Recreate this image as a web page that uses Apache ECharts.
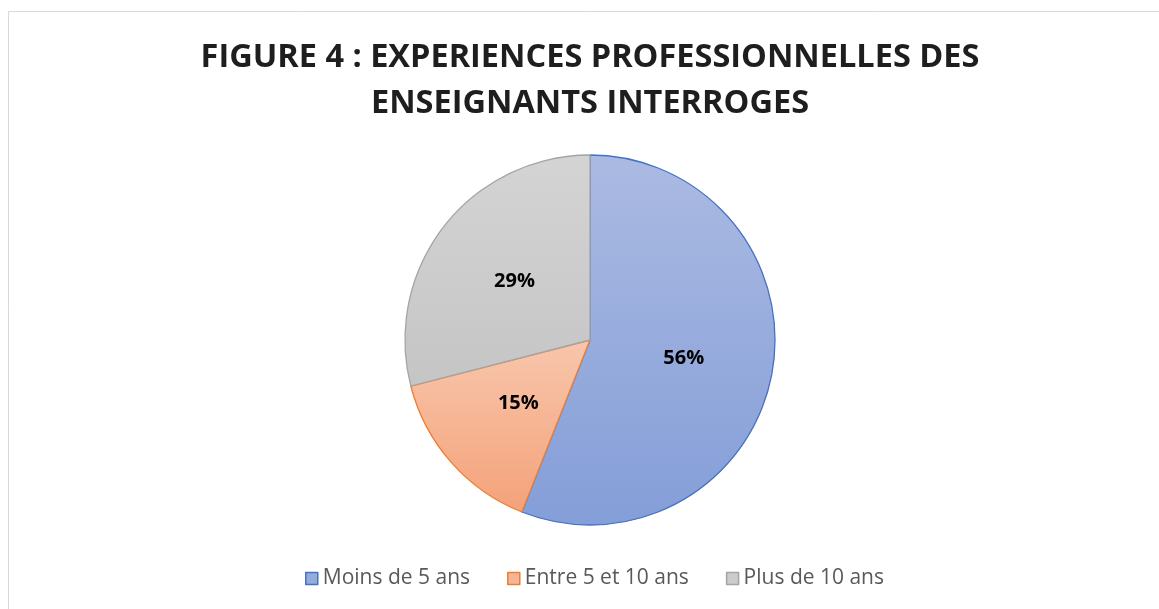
<!DOCTYPE html>
<html>
<head>
<meta charset="utf-8">
<script src="https://cdn.jsdelivr.net/npm/echarts@6/dist/echarts.min.js"></script>
<style>
html,body{margin:0;padding:0;background:#fff;}
#chart{width:1159px;height:609px;}
</style>
</head>
<body>
<div id="chart"></div>
<script>
var titleLines = ['FIGURE 4 : EXPERIENCES PROFESSIONNELLES DES', 'ENSEIGNANTS INTERROGES'];
var categories = ['Moins de 5 ans', 'Entre 5 et 10 ans', 'Plus de 10 ans'];
var values = [56, 15, 29];
var topColors = ['#abbae2', '#f8c6ac', '#d4d4d4'];
var bottomColors = ['#849ed8', '#f4a27a', '#c5c5c5'];
var borderColors = ['#4472c4', '#ed7d31', '#a5a5a5'];
var legendColors = ['#94abdc', '#f6b596', '#cccccc'];

var FONT = '"Open Sans", Lato, sans-serif';
var chart = echarts.init(document.getElementById('chart'));

var data = categories.map(function (c, i) {
  return {
    name: c,
    value: values[i],
    itemStyle: {
      color: {
        type: 'linear', x: 0, y: 0, x2: 0, y2: 1,
        colorStops: [{offset: 0, color: topColors[i]}, {offset: 1, color: bottomColors[i]}]
      },
      borderColor: borderColors[i],
      borderWidth: 1.3
    }
  };
});

chart.setOption({
  animation: false,
  graphic: [{
    type: 'rect',
    shape: {x: 8.5, y: 11.5, width: 1300, height: 800},
    style: {fill: 'none', stroke: '#d9d9d9', lineWidth: 1},
    silent: true
  }],
  title: {
    text: titleLines.join('\n'),
    left: 590,
    textAlign: 'center',
    top: 35,
    padding: 0,
    textStyle: {
      fontFamily: FONT,
      fontWeight: 'bold',
      fontSize: 32.5,
      lineHeight: 46,
      color: '#1e1e1e'
    }
  },
  legend: {
    top: 563,
    left: 300,
    icon: 'rect',
    itemWidth: 12,
    itemHeight: 12,
    itemGap: 37,
    textStyle: {fontFamily: FONT, fontSize: 21, color: '#595959'},
    data: categories.map(function (c, i) {
      return {name: c, itemStyle: {color: legendColors[i], borderColor: borderColors[i], borderWidth: 1.5}};
    })
  },
  series: [{
    type: 'pie',
    center: [590, 340],
    radius: 185,
    startAngle: 90,
    clockwise: true,
    label: {
      show: true,
      position: 'inside',
      formatter: '{c}%',
      fontFamily: FONT,
      fontWeight: 'bold',
      fontSize: 20,
      color: '#000'
    },
    labelLine: {show: false},
    emphasis: {disabled: true},
    data: data
  }]
});
</script>
</body>
</html>
